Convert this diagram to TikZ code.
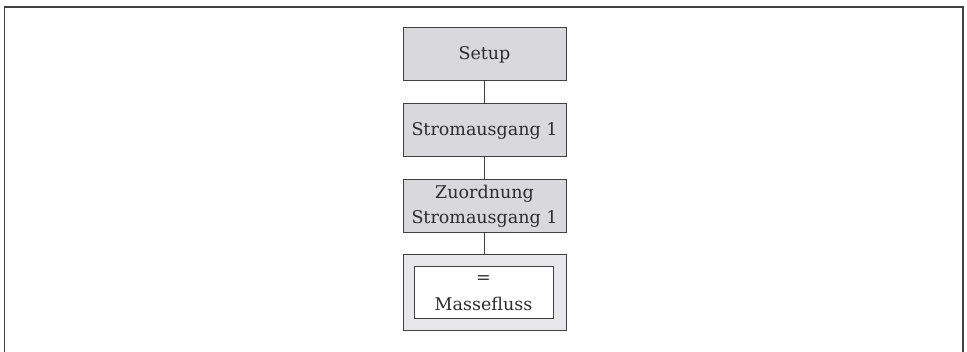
\documentclass[tikz,border=0pt]{standalone}
\usepackage{fontspec}
\setmainfont{DejaVu Serif}
\usepackage{xcolor}
\definecolor{boxfill}{RGB}{217,217,219}
\definecolor{boxline}{RGB}{64,64,64}
\definecolor{valfill}{RGB}{231,231,233}
\definecolor{labeltext}{RGB}{45,45,45}
\begin{document}
\begin{tikzpicture}[x=1pt,y=-1pt,
  menubox/.style={draw=boxline,line width=1pt,fill=boxfill,minimum width=163pt,
    minimum height=53pt,inner sep=0pt,align=center,font=\fontsize{17.5}{25}\selectfont,text=labeltext},
  link/.style={draw=boxline,line width=1pt}]
\useasboundingbox (0,0) rectangle (967,352);
% outer frame, open at the bottom
\draw[boxline,line width=1.6pt] (4.5,352) -- (4.5,7) -- (963,7) -- (963,352);
% menu path
\node[menubox] (setup) at (484.5,54.5) {Setup};
\node[menubox] (strom) at (484.5,130.5) {Stromausgang 1};
\node[menubox] (zuord) at (484.5,206) {Zuordnung\\Stromausgang 1};
\node[menubox,fill=valfill,minimum height=76pt] (wert) at (484.5,293) {};
\node[draw=boxline,line width=1pt,fill=white,minimum width=139pt,minimum height=52pt,
  inner sep=0pt,align=center,font=\fontsize{17.5}{27}\selectfont,text=labeltext] (masse) at (483.5,293) {=\\Massefluss};
\draw[link] (setup.south) -- (strom.north);
\draw[link] (strom.south) -- (zuord.north);
\draw[link] (zuord.south) -- (wert.north);
\end{tikzpicture}
\end{document}
